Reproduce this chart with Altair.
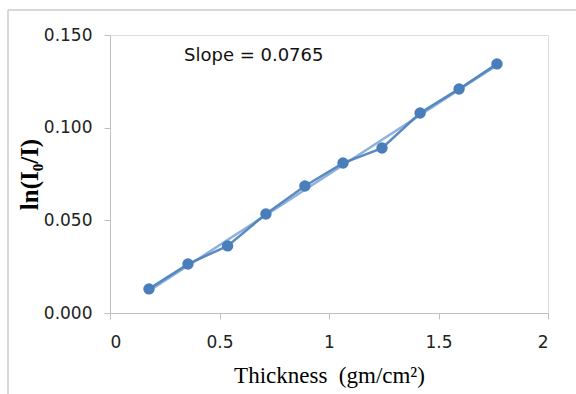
import altair as alt
import pandas as pd

thickness = [0.178, 0.356, 0.537, 0.712, 0.890, 1.064, 1.242, 1.416, 1.594, 1.767]
ln_ratio = [0.0130, 0.0264, 0.0362, 0.0534, 0.0685, 0.0809, 0.0890, 0.1079, 0.1209, 0.1344]
x_ticks = [0, 0.5, 1, 1.5, 2]
y_ticks = [0.0, 0.05, 0.10, 0.15]
annotation = "Slope = 0.0765"

df = pd.DataFrame({"x": thickness, "y": ln_ratio})

BLUE = "#4a7ebb"
SERIF = "Liberation Serif"
SANS = "DejaVu Sans"

xenc = alt.X("x:Q", scale=alt.Scale(domain=[0, 2], nice=False),
             axis=alt.Axis(values=x_ticks, format="~g", grid=False,
                           title="Thickness\u00a0\u00a0(gm/cm²)", titleFont=SERIF,
                           titleFontSize=23, titleFontWeight="normal",
                           titleColor="#000000", titleX=219, titleY=69,
                           titleBaseline="alphabetic", titleAlign="center",
                           labelFont=SANS, labelFontSize=17, labelColor="#222222",
                           labelPadding=15, domainColor="#bfbfbf", tickColor="#bfbfbf",
                           tickSize=6))
yenc = alt.Y("y:Q", scale=alt.Scale(domain=[0, 0.15], nice=False),
             axis=alt.Axis(values=y_ticks, format=".3f", grid=False,
                           title="ln(I₀/I)", titleFont=SERIF, titleFontSize=25,
                           titleFontWeight="bold", titleColor="#000000",
                           titleX=-73, titleY=139, titleAngle=-90,
                           titleBaseline="alphabetic", titleAlign="center",
                           labelFont=SANS, labelFontSize=17, labelColor="#222222",
                           labelPadding=12, domainColor="#bfbfbf", tickColor="#bfbfbf",
                           tickSize=6))

base = alt.Chart(df)

trend = base.transform_regression("x", "y").mark_line(
    color="#8fb2dc", strokeWidth=2.5).encode(x=xenc, y=yenc)
line = base.mark_line(color=BLUE, strokeWidth=2.5, opacity=0.9).encode(x=xenc, y=yenc)
pts = base.mark_circle(color=BLUE, size=130, opacity=1).encode(x=xenc, y=yenc)

label = alt.Chart(pd.DataFrame({"x": [0.338], "y": [0.1388], "t": [annotation]})).mark_text(
    align="left", baseline="middle", font=SANS, fontSize=18, color="#111111"
).encode(x="x:Q", y="y:Q", text="t:N")

frame_top = alt.Chart(df).mark_rule(color="#d9d9d9", strokeWidth=1.5).encode(
    x=alt.value(-102), x2=alt.value(480), y=alt.value(-25))
frame_left = alt.Chart(df).mark_rule(color="#d9d9d9", strokeWidth=1.5).encode(
    x=alt.value(-102), y=alt.value(-25), y2=alt.value(380))

chart = alt.layer(frame_top, frame_left, trend, line, pts, label).properties(
    width=438, height=278,
    autosize=alt.AutoSizeParams(type="none"),
    padding={"left": 110, "top": 35, "right": 28, "bottom": 81},
).configure_view(strokeWidth=0).configure(background="white")

chart.save("out.html", embed_options={"renderer": "svg", "actions": False})
